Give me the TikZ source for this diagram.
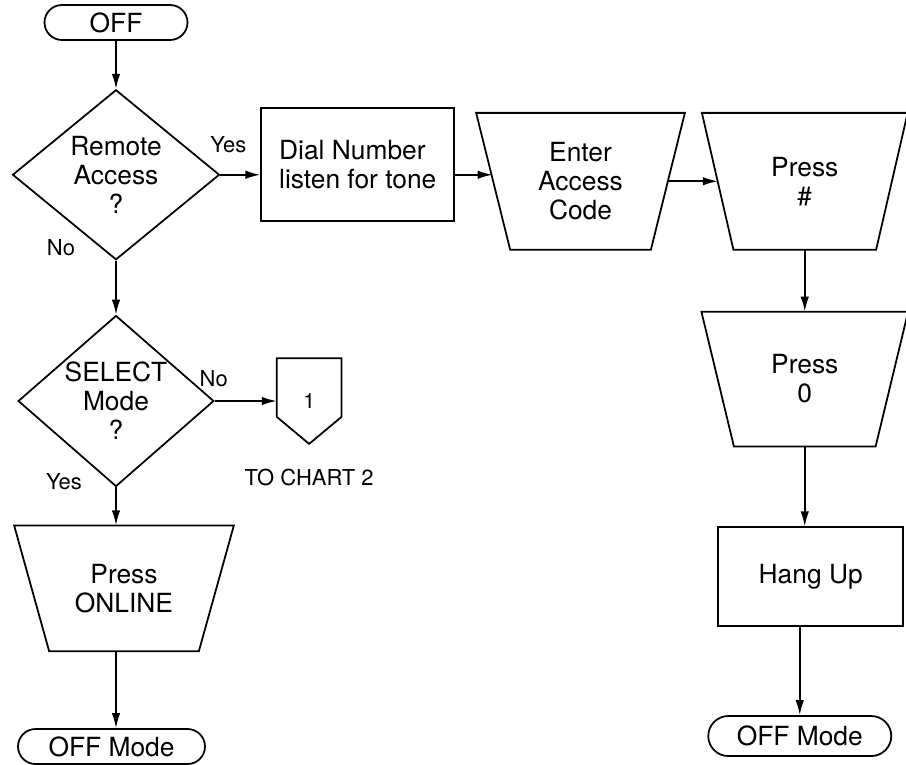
\documentclass[tikz,border=0pt]{standalone}
\usepackage{fontspec}
\setmainfont{TeX Gyre Heros}
\usetikzlibrary{positioning}
\usetikzlibrary{calc}
\usetikzlibrary{arrows.meta}
\usetikzlibrary{shapes.geometric, shapes.misc}

\begin{document}
\begin{tikzpicture}[
            > = {Latex[length=3mm,width=1.7mm]}, % arrow head style
            line width = 1pt, % line style
            node distance = 1cm,
            font = \fontsize{15pt}{16.5pt}\selectfont
            ]

        \tikzstyle{term}=[draw, rounded rectangle, inner sep=0pt, minimum height=0.7cm]
        \tikzstyle{decision}=[draw, diamond, aspect=1.2, inner sep=0pt, align=center]
        \tikzstyle{action}=[draw, rectangle, inner sep=2pt]
        \tikzstyle{manual}=[ % outline drawn below, wide at the top
            minimum width = 4.12cm,
            minimum height = 2.7cm,
            inner sep = 0pt,
            align = center
        ]
        \tikzstyle{lbl}=[inner sep=1pt, font=\fontsize{12.5pt}{14pt}\selectfont]

    \useasboundingbox (0,0) rectangle (18.12,-15.3);

	% left column
	\node[term, minimum width=2.86cm] (off) at (2.32,-0.45) {OFF};
	\node[decision, minimum width=4.14cm, minimum height=3.4cm] (ra) [below=0.96cm of off] {Remote\\Access\\?};
	\path[->] (off) edge node {} (ra);

	\node[decision, minimum width=3.78cm, minimum height=3.42cm] (sel) [below=1.08cm of ra] {SELECT\\Mode\\?};
	\path[->] (ra) edge node {} (sel);

	\node[minimum width=1.26cm, minimum height=1.68cm, font=\fontsize{12pt}{14pt}\selectfont] (conn) [right=1.24cm of sel] {1};
	\draw (conn.north west) -- (conn.north east) -- ([yshift=0.54cm]conn.south east) -- (conn.south) -- ([yshift=0.54cm]conn.south west) -- cycle;
	\draw[->] (sel.east) -- (sel.east -| conn.west);
	\node[lbl] (chart) [below=0.45cm of conn] {TO CHART 2};

	\node[manual, minimum width=4.36cm, minimum height=2.48cm] (online) [below=0.76cm of sel, xshift=0.16cm] {Press\\ONLINE};
	\draw[->] (sel.south) -- (sel.south |- online.north);
	\node[term, minimum width=3.74cm] (offl) [below=1.54cm of online, xshift=-0.25cm] {OFF Mode};
	\draw[->] (sel.south |- online.south) -- (sel.south |- offl.north);

	% branch labels
	\node[lbl] (yes1) at ([shift={(0.16,0.6)}]ra.east) {Yes};
	\node[lbl] (no1) at ([shift={(-1.1,0.26)}]ra.south) {No};
	\node[lbl] (no2) at ([shift={(-0.02,0.44)}]sel.east) {No};
	\node[lbl] (yes2) at ([shift={(-1.04,0.12)}]sel.south) {Yes};

	% top row
	\node[action, minimum width=3.86cm, minimum height=2.26cm, align=left] (dial) [right=0.8cm of ra, yshift=0.21cm] {Dial Number\\listen for tone};
	\draw[->] (ra.east) -- (ra.east -| dial.west);

	\node[manual, minimum width=4.14cm] (ent) [right=0.42cm of dial, yshift=-0.34cm] {Enter\\Access\\Code};
	\draw[->] (ra.east -| dial.east) -- ($(ra.east -| ent.west)+(0.33,0)$);

	\node[manual, minimum width=4.08cm] (hash) [right=0.34cm of ent] {Press\\\#};
	\draw[->] ($(ent.east)+(-0.34,0)$) -- ($(hash.west)+(0.32,0)$);

	% right column
	\node[manual, minimum width=4.1cm, minimum height=2.66cm] (zero) [below=1.24cm of hash] {Press\\0};
	\path[->] (hash) edge node {} (zero);

	\node[action, minimum width=3.7cm, minimum height=1.98cm] (hang) [below=1.6cm of zero, xshift=0.12cm] {Hang Up};
	\draw[->] (zero.south) -- (zero.south |- hang.north);

	\node[term, minimum width=3.66cm, minimum height=0.8cm] (offr) [below=1.76cm of hang, xshift=-0.22cm] {OFF Mode};
	\draw[->] (offr.north |- hang.south) -- (offr.north);

	% manual input outlines
	\foreach \n/\d in {online/0.7, ent/0.68, hash/0.63, zero/0.65}
	    \draw (\n.north west) -- (\n.north east) -- ([xshift=-\d cm]\n.south east) -- ([xshift=\d cm]\n.south west) -- cycle;

\end{tikzpicture}
\end{document}
